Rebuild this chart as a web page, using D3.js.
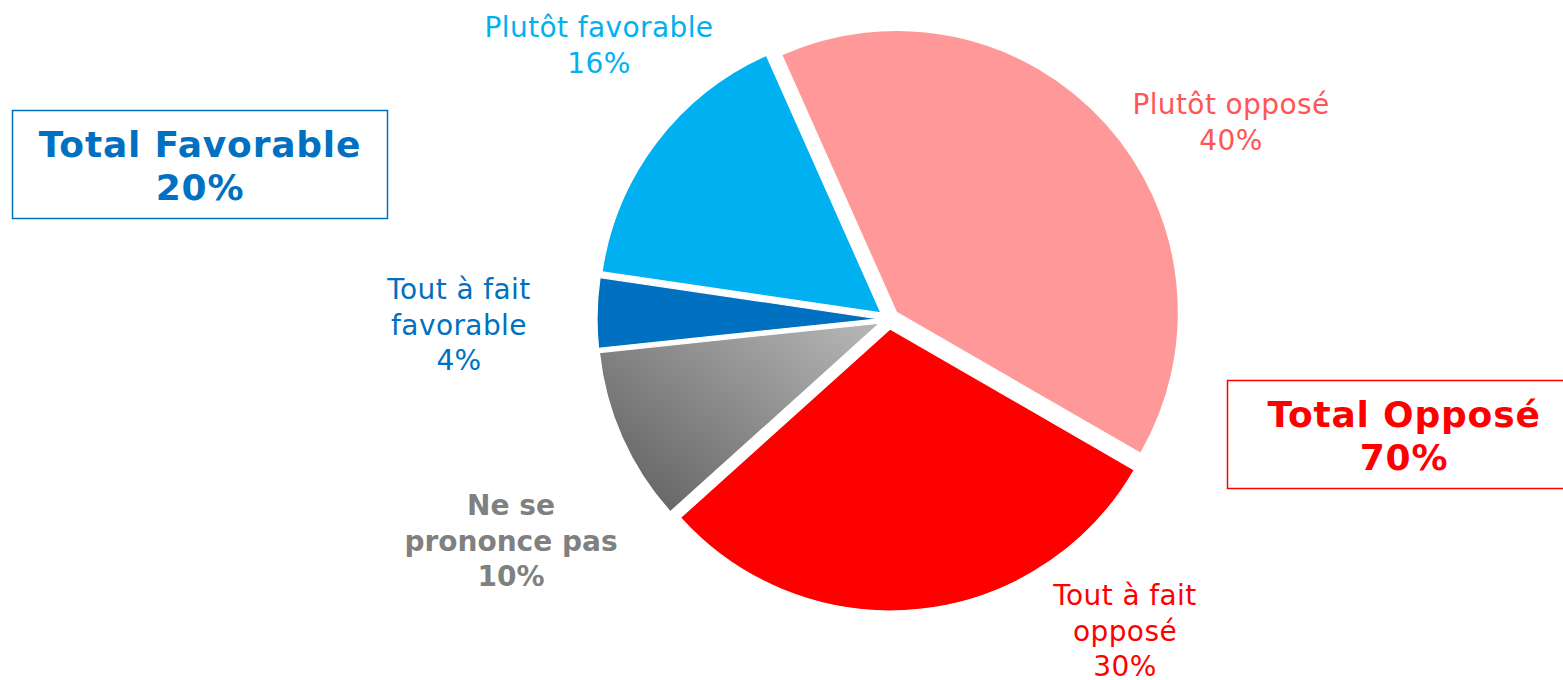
<!DOCTYPE html>
<html>
<head>
<meta charset="utf-8">
<script src="https://cdn.jsdelivr.net/npm/d3@7"></script>
<style>
  html, body { margin: 0; padding: 0; background: #fff; }
  svg { display: block; font-family: Verdana, "DejaVu Sans", sans-serif; }
</style>
</head>
<body>
<svg id="chart" width="1563" height="680"></svg>
<script>
// ---- data ----
const categories = ["Plutôt opposé", "Tout à fait opposé", "Ne se prononce pas", "Tout à fait favorable", "Plutôt favorable"];
const values = [40, 30, 10, 4, 16];
const labelLines = [
  ["Plutôt opposé", "40%"],
  ["Tout à fait", "opposé", "30%"],
  ["Ne se", "prononce pas", "10%"],
  ["Tout à fait", "favorable", "4%"],
  ["Plutôt favorable", "16%"]
];
const totalLabels = ["Total Favorable", "Total Opposé"];
const totalValues = [20, 70];

// ---- styles / layout ----
const sliceColors = ["#FF9999", "#FF0000", "url(#grayGrad)", "#0070C0", "#00B0F0"];
const textColors = ["#FF5555", "#FF0000", "#808080", "#0070C0", "#00B0F0"];
const textBold = [false, false, true, false, false];
const labelPos = [[1231, 114], [1125, 605], [511, 515], [459, 299], [599, 37]];
const lineStep = 35.5;
const cx = 889, cy = 319, R = 282, explode = 10;

const svg = d3.select("#chart");
const defs = svg.append("defs");
const grad = defs.append("linearGradient").attr("id", "grayGrad")
  .attr("x1", "0").attr("y1", "1").attr("x2", "1").attr("y2", "0.15");
grad.append("stop").attr("offset", "0").attr("stop-color", "#5c5c5c");
grad.append("stop").attr("offset", "1").attr("stop-color", "#b2b2b2");

const pie = d3.pie().sort(null).value(d => d)
  .startAngle(-24 * Math.PI / 180)
  .endAngle(-24 * Math.PI / 180 + 2 * Math.PI);
const arc = d3.arc().innerRadius(0).outerRadius(R);
const arcs = pie(values);

const g = svg.append("g").attr("transform", `translate(${cx},${cy})`);
g.selectAll("path").data(arcs).enter().append("path")
  .attr("d", arc)
  .attr("transform", d => {
    const a = (d.startAngle + d.endAngle) / 2;
    return `translate(${explode * Math.sin(a)},${-explode * Math.cos(a)})`;
  })
  .attr("fill", (d, i) => sliceColors[i])
  .attr("stroke", "#fff")
  .attr("stroke-width", 1.2);

// slice labels
labelLines.forEach((lines, i) => {
  const t = svg.append("text")
    .attr("text-anchor", "middle")
    .attr("font-size", 28)
    .attr("letter-spacing", textBold[i] ? 0 : 0.4)
    .attr("font-weight", textBold[i] ? "bold" : "normal")
    .attr("fill", textColors[i]);
  lines.forEach((ln, j) => {
    t.append("tspan").attr("x", labelPos[i][0]).attr("y", labelPos[i][1] + j * lineStep).text(ln);
  });
});

// total boxes
const boxes = [
  { rect: [12.5, 110.5, 375, 108], color: "#0070C0", tx: 200, ty: 157 },
  { rect: [1227.5, 380.5, 345, 108], color: "#FF0000", tx: 1404, ty: 427 }
];
boxes.forEach((b, i) => {
  svg.append("rect")
    .attr("x", b.rect[0]).attr("y", b.rect[1])
    .attr("width", b.rect[2]).attr("height", b.rect[3])
    .attr("fill", "none").attr("stroke", b.color).attr("stroke-width", 1.5);
  const t = svg.append("text").attr("text-anchor", "middle")
    .attr("font-size", 36).attr("font-weight", "bold")
    .attr("letter-spacing", 0.8).attr("fill", b.color);
  t.append("tspan").attr("x", b.tx).attr("y", b.ty).text(totalLabels[i]);
  t.append("tspan").attr("x", b.tx).attr("y", b.ty + 43).text(totalValues[i] + "%");
});
</script>
</body>
</html>
